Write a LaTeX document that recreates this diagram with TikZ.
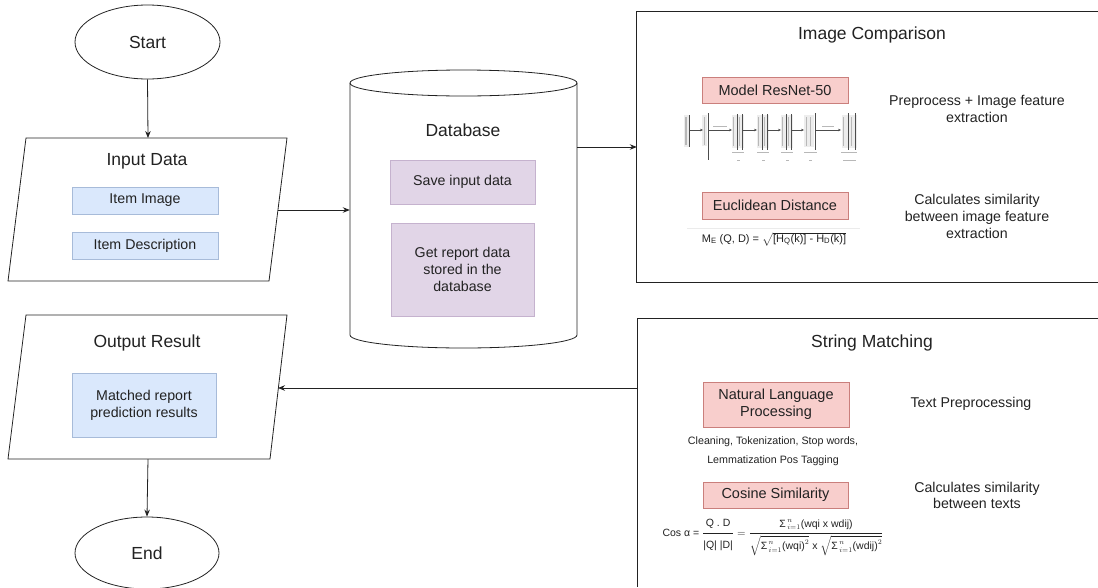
\documentclass[tikz,border=0pt]{standalone}
\usepackage{fontspec}
\setmainfont{Liberation Sans}
\usepackage{amsmath}
\usetikzlibrary{arrows.meta,shapes.geometric}

\definecolor{bluefill}{HTML}{DAE8FC}
\definecolor{blueline}{HTML}{6C8EBF}
\definecolor{purplefill}{HTML}{E1D5E7}
\definecolor{purpleline}{HTML}{9673A6}
\definecolor{redfill}{HTML}{F8CECC}
\definecolor{redline}{HTML}{B85450}
\definecolor{ink}{HTML}{222222}

\begin{document}
\begin{tikzpicture}[x=1pt,y=-1pt,
  outline/.style={draw=ink, line width=0.8pt},
  flow/.style={draw=ink, line width=0.8pt, -{Stealth[length=7pt,width=5.5pt]}},
  titletext/.style={font=\fontsize{17.5}{21}\selectfont, text=ink},
  bodytext/.style={font=\fontsize{14.2}{17}\selectfont, text=ink, align=center},
  smalltext/.style={font=\fontsize{10.7}{19}\selectfont, text=ink, align=center},
  bluebox/.style={draw=blueline!60, fill=bluefill, line width=0.7pt, inner sep=0pt,
    font=\fontsize{14.2}{17}\selectfont, text=ink, align=center},
  purplebox/.style={draw=purpleline!55, fill=purplefill, line width=0.7pt, inner sep=0pt,
    font=\fontsize{14.2}{17}\selectfont, text=ink, align=center},
  redbox/.style={draw=redline!75, fill=redfill, line width=0.8pt, inner sep=0pt,
    font=\fontsize{14.5}{17}\selectfont, text=ink, align=center},
  netline/.style={draw=black!70, line width=0.6pt},
  netfaint/.style={draw=black!28, line width=0.5pt},
  netpad/.style={fill=black!7, draw=none},
  netarrow/.style={draw=black!70, line width=0.6pt, -{Stealth[length=3pt,width=2.6pt]}},
  ghost/.style={draw=none, inner sep=0pt}
]
\useasboundingbox (0,0) rectangle (1098,587);

% ---------- start / end terminals ----------
\node[ellipse, outline, minimum width=145pt, minimum height=74pt, inner sep=0pt,
      titletext] (start) at (147.5,42) {Start};
\node[ellipse, outline, minimum width=144pt, minimum height=72pt, inner sep=0pt,
      titletext] (end) at (147,553) {End};

% ---------- input data (parallelogram) ----------
\draw[outline] (26,138) -- (287,138) -- (269,281) -- (8,281) -- cycle;
\coordinate (inN) at (148,138);
\coordinate (inE) at (278,210);
\node[titletext] (inTitle) at (147,161) {Input Data};
\node[bluebox, minimum width=146pt, minimum height=27pt] (itemImg) at (145,200.5) {Item Image};
\node[bluebox, minimum width=146pt, minimum height=27pt] (itemDesc) at (145,245.5) {Item Description};

% ---------- output result (parallelogram) ----------
\draw[outline] (26,315) -- (287,315) -- (270,459) -- (8,459) -- cycle;
\coordinate (outE) at (278,388);
\coordinate (outS) at (148,459);
\node[titletext] (outTitle) at (147,343) {Output Result};
\node[bluebox, minimum width=144pt, minimum height=64pt] (matched) at (144,405)
  {Matched report\\prediction results};

% ---------- database (cylinder) ----------
\node[ghost, minimum width=227pt, minimum height=278pt] (db) at (463.5,209) {};
\draw[outline, fill=white] (350,83) -- (350,335) arc[start angle=180, end angle=0,
  x radius=113.5, y radius=13] -- (577,83);
\draw[outline] (463.5,83) ellipse [x radius=113.5, y radius=13];
\node[titletext] (dbTitle) at (463,130) {Database};
\node[purplebox, minimum width=145pt, minimum height=44pt] (save) at (462.5,182) {Save input data};
\node[purplebox, minimum width=143pt, minimum height=93pt] (getrep) at (462.5,269.5)
  {Get report data\\stored in the\\database};

% ---------- image comparison panel ----------
\node[ghost, minimum width=461pt, minimum height=270pt] (imgcmp) at (867.5,147) {};
\draw[outline] (imgcmp.north east) -- (imgcmp.north west) -- (imgcmp.south west) -- (imgcmp.south east);
\node[titletext] (icTitle) at (872,35) {Image Comparison};
\node[redbox, minimum width=146pt, minimum height=26pt] (resnet) at (775,90) {Model ResNet-50};
\node[bodytext] (prep) at (977,108.5) {Preprocess + Image feature\\extraction};
\node[redbox, minimum width=146pt, minimum height=27pt] (eucl) at (775,205.5) {Euclidean Distance};
\node[bodytext] (calcImg) at (977,216) {Calculates similarity\\between image feature\\extraction};
\draw[draw=black!8, line width=0.6pt] (687,228) -- (860,228);
\node[font=\fontsize{11}{13}\selectfont, text=ink, inner sep=0pt] (euclf) at (774,239)
  {M\textsubscript{E} (Q, D) = $\sqrt{\text{[H\textsubscript{Q}(k)] - H\textsubscript{D}(k)]}}$};

% small ResNet-50 architecture sketch
\begin{scope}
  % pale text areas of the layer blocks
  \fill[netpad] (684,115) rectangle (690,147);
  \fill[netpad] (702,115) rectangle (707,146);
  \foreach \bx in {733,758,782} {\fill[netpad] (\bx-1,115) rectangle (\bx+11,148);}
  \fill[netpad] (804,115) rectangle (814,147);
  \fill[netpad] (842,115) rectangle (857,148);
  % input block
  \draw[netfaint, line width=1.2pt] (686,117) -- (686,145);
  \draw[netline] (689,115) -- (689,147);
  \draw[netarrow] (690,130) -- (703,130);
  % conv1
  \draw[netfaint] (704,117) -- (704,145);
  \draw[netline] (708,113) -- (708,160);
  \draw[netarrow] (708,130) -- (732,130);
  \draw[netfaint] (713,126) -- (727,126);
  % stage blocks
  \foreach \bx in {733,758,782} {
    \draw[netfaint] (\bx,117) -- (\bx,146);
    \draw[netline] (\bx+4,114) -- (\bx+4,150);
    \draw[netfaint] (\bx+6.5,117) -- (\bx+6.5,146);
    \draw[netline] (\bx+9,114) -- (\bx+9,150);
    \draw[netfaint] (\bx-1,152) -- (\bx+11,152);
    \draw[netfaint, line width=0.9pt] (\bx+4,160) -- (\bx+7,160);
  }
  \draw[netarrow] (742,130) -- (757,130);
  \draw[netarrow] (767,130) -- (781,130);
  \draw[netarrow] (791,130) -- (804,130);
  \draw[netfaint] (806,117) -- (806,146);
  \draw[netfaint] (810,117) -- (810,146);
  \draw[netline] (815,113) -- (815,150);
  \draw[netfaint] (804,152) -- (817,152);
  \draw[netfaint, line width=0.9pt] (809,160) -- (812,160);
  \draw[netarrow] (815,130) -- (841,130);
  \draw[netfaint] (822,126) -- (834,126);
  % output block
  \draw[netfaint] (843,117) -- (843,146);
  \draw[netline] (848,113) -- (848,150);
  \draw[netfaint] (851,117) -- (851,146);
  \draw[netline] (855,113) -- (855,150);
  \draw[netfaint] (841,152) -- (857,152);
  \draw[netfaint, line width=0.9pt] (843,160) -- (856,160);
\end{scope}

% ---------- string matching panel ----------
\node[ghost, minimum width=460pt, minimum height=268pt] (strm) at (868,453) {};
\draw[outline] (strm.north east) -- (strm.north west) -- (strm.south west);
\coordinate (smW) at (638,388);
\node[titletext] (smTitle) at (872,343) {String Matching};
\node[redbox, minimum width=146pt, minimum height=45pt] (nlp) at (776,404.5)
  {Natural Language\\Processing};
\node[bodytext] (textprep) at (971,404) {Text Preprocessing};
\node[smalltext] (steps) at (773,451.5) {Cleaning, Tokenization, Stop words,\\Lemmatization Pos Tagging};
\node[redbox, minimum width=145pt, minimum height=26pt] (cosine) at (775.5,495) {Cosine Similarity};
\node[bodytext, font=\fontsize{14.2}{16}\selectfont] (calcTxt) at (977,495.5) {Calculates similarity\\between texts};
\node[font=\fontsize{10.5}{12}\selectfont, text=ink, inner sep=0pt] (cosf) at (773,537)
  {Cos α = $\dfrac{\text{Q . D}\rule[-6pt]{0pt}{6pt}}{\text{|Q| |D|}\rule{0pt}{13pt}}
   = \dfrac{\text{Σ}^{\,n}_{\,i=1}\text{(wqi x wdij)}\rule[-5pt]{0pt}{5pt}}%
   {\rule{0pt}{14pt}\sqrt{\text{Σ}^{\,n}_{\,i=1}\text{(wqi)}^{2}}\text{ x }\sqrt{\text{Σ}^{\,n}_{\,i=1}\text{(wdij)}^{2}}}$};

% ---------- connectors ----------
\draw[flow] (start.south) -- (inN);
\draw[flow] (inE) -- (db.west |- inE);
\draw[flow] (db.east |- imgcmp.west) -- (imgcmp.west);
\draw[flow] (smW) -- (outE);
\draw[flow] (outS) -- (end.north);
\end{tikzpicture}
\end{document}
